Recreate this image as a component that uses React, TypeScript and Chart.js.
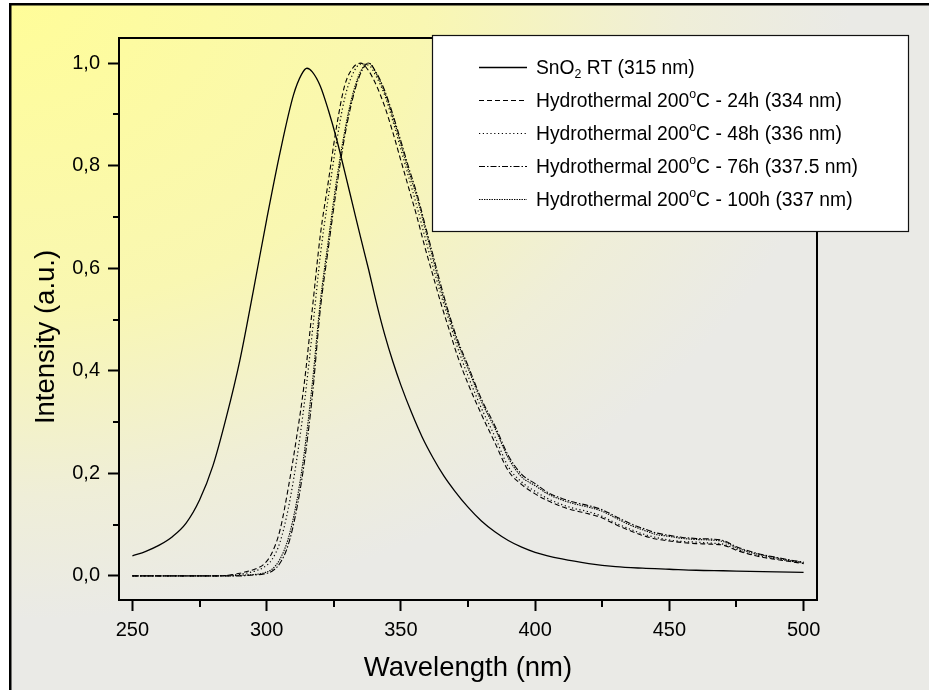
import React, { useEffect, useRef } from 'react';
import { Chart, registerables } from 'chart.js';

Chart.register(...registerables);

// ---------- data ----------
const sno2Wavelength = [250, 255, 260, 265, 270, 275, 280, 285, 290, 295, 300, 305, 310, 313, 315, 317, 320, 323, 326, 329, 332, 335, 338, 341, 344, 347, 350, 354, 358, 362, 366, 370, 375, 380, 385, 390, 395, 400, 410, 420, 430, 440, 450, 460, 470, 480, 490, 500];
const sno2Intensity = [0.039, 0.048, 0.06, 0.077, 0.103, 0.148, 0.215, 0.31, 0.42, 0.555, 0.695, 0.826, 0.938, 0.978, 0.99, 0.983, 0.955, 0.908, 0.853, 0.79, 0.725, 0.66, 0.597, 0.53, 0.47, 0.418, 0.372, 0.318, 0.27, 0.23, 0.195, 0.166, 0.134, 0.107, 0.086, 0.069, 0.056, 0.046, 0.033, 0.024, 0.018, 0.015, 0.013, 0.011, 0.01, 0.009, 0.008, 0.007];

const hydroWavelength = [250, 260, 270, 280, 285, 290, 293, 296, 299, 302, 305, 308, 311, 314, 317, 320, 323, 326, 329, 332, 335, 338, 341, 344, 347, 350, 353, 356, 359, 362, 365, 368, 371, 375, 380, 385, 390, 395, 400, 405, 410, 415, 420, 425, 430, 435, 440, 445, 450, 455, 460, 465, 470, 475, 480, 485, 490, 495, 500];
const hydro24h = [0, 0, 0, 0, 0.001, 0.005, 0.009, 0.014, 0.023, 0.045, 0.09, 0.17, 0.265, 0.375, 0.52, 0.665, 0.77, 0.875, 0.955, 0.99, 1.0, 0.985, 0.955, 0.915, 0.865, 0.81, 0.755, 0.7, 0.64, 0.585, 0.53, 0.48, 0.43, 0.375, 0.315, 0.26, 0.205, 0.178, 0.16, 0.146, 0.135, 0.127, 0.121, 0.113, 0.1, 0.089, 0.079, 0.072, 0.068, 0.065, 0.063, 0.062, 0.06, 0.05, 0.042, 0.036, 0.032, 0.028, 0.024];
const hydro48h = [0, 0, 0, 0, 0.001, 0.003, 0.006, 0.01, 0.017, 0.032, 0.066, 0.13, 0.22, 0.335, 0.475, 0.625, 0.74, 0.845, 0.93, 0.978, 0.998, 0.996, 0.972, 0.937, 0.887, 0.832, 0.776, 0.72, 0.66, 0.602, 0.547, 0.497, 0.447, 0.39, 0.327, 0.272, 0.213, 0.183, 0.165, 0.15, 0.139, 0.131, 0.125, 0.116, 0.103, 0.092, 0.082, 0.075, 0.07, 0.067, 0.066, 0.064, 0.062, 0.052, 0.043, 0.038, 0.033, 0.029, 0.025];
const hydro76h = [0, 0, 0, 0, 0, 0, 0.001, 0.002, 0.004, 0.009, 0.025, 0.06, 0.125, 0.22, 0.35, 0.52, 0.64, 0.755, 0.855, 0.93, 0.98, 1.0, 0.98, 0.946, 0.9, 0.848, 0.795, 0.745, 0.685, 0.625, 0.565, 0.51, 0.462, 0.41, 0.345, 0.293, 0.235, 0.198, 0.18, 0.162, 0.151, 0.143, 0.137, 0.129, 0.116, 0.103, 0.093, 0.084, 0.079, 0.075, 0.073, 0.072, 0.069, 0.057, 0.048, 0.041, 0.036, 0.031, 0.027];
const hydro100h = [0, 0, 0, 0, 0, 0.001, 0.002, 0.003, 0.006, 0.013, 0.033, 0.072, 0.14, 0.24, 0.375, 0.535, 0.655, 0.77, 0.865, 0.938, 0.984, 1.0, 0.978, 0.942, 0.895, 0.842, 0.788, 0.738, 0.678, 0.618, 0.558, 0.505, 0.457, 0.405, 0.34, 0.288, 0.23, 0.193, 0.176, 0.159, 0.148, 0.14, 0.134, 0.126, 0.113, 0.1, 0.09, 0.081, 0.077, 0.073, 0.071, 0.07, 0.067, 0.055, 0.046, 0.04, 0.035, 0.03, 0.026];

const xMajorTicks = [250, 300, 350, 400, 450, 500];
const xMinorTicks = [275, 325, 375, 425, 475];
const yMajorTicks = [0, 0.2, 0.4, 0.6, 0.8, 1.0];
const yMinorTicks = [0.1, 0.3, 0.5, 0.7, 0.9];

const xTitle = 'Wavelength (nm)';
const yTitle = 'Intensity (a.u.)';

const seriesNames = [
  'SnO2 RT (315 nm)',
  'Hydrothermal 200°C - 24h (334 nm)',
  'Hydrothermal 200°C - 48h (336 nm)',
  'Hydrothermal 200°C - 76h (337.5 nm)',
  'Hydrothermal 200°C - 100h (337 nm)',
];

type Seg = { t: string; sub?: boolean; sup?: boolean };
const legendRich: Seg[][] = [
  [{ t: 'SnO' }, { t: '2', sub: true }, { t: ' RT (315 nm)' }],
  [{ t: 'Hydrothermal 200' }, { t: 'o', sup: true }, { t: 'C - 24h (334 nm)' }],
  [{ t: 'Hydrothermal 200' }, { t: 'o', sup: true }, { t: 'C - 48h (336 nm)' }],
  [{ t: 'Hydrothermal 200' }, { t: 'o', sup: true }, { t: 'C - 76h (337.5 nm)' }],
  [{ t: 'Hydrothermal 200' }, { t: 'o', sup: true }, { t: 'C - 100h (337 nm)' }],
];

const FONT = '"Liberation Sans", Arial, Helvetica, sans-serif';

const dashes: number[][] = [[], [5, 3], [1.2, 2.6], [6, 2, 1.5, 2], [1.4, 1.1]];
const widths = [1.3, 1.1, 1.2, 1.1, 1.1];

function pts(xs: number[], ys: number[]) {
  return xs.map((x, i) => ({ x, y: ys[i] }));
}

const decor = {
  id: 'decor',
  beforeDraw(chart: any) {
    const ctx = chart.ctx as CanvasRenderingContext2D;
    const W = chart.width;
    const H = chart.height;
    ctx.save();
    ctx.fillStyle = '#ffffff';
    ctx.fillRect(0, 0, W, H);
    ctx.save();
    ctx.beginPath();
    ctx.rect(9, 3, W - 9, H - 3);
    ctx.clip();
    const rx = 850;
    const ry = 620;
    ctx.scale(1, ry / rx);
    const g = ctx.createRadialGradient(0, 0, 0, 0, 0, rx);
    g.addColorStop(0, '#fffd98');
    g.addColorStop(0.5, '#f9f7b2');
    g.addColorStop(0.8, '#efeed8');
    g.addColorStop(1, '#eaeae6');
    ctx.fillStyle = g;
    ctx.fillRect(0, 0, W, (H * rx) / ry);
    ctx.restore();
    ctx.strokeStyle = '#000';
    ctx.lineWidth = 2.5;
    ctx.beginPath();
    ctx.moveTo(10.25, H + 5);
    ctx.lineTo(10.25, 4.25);
    ctx.lineTo(W + 5, 4.25);
    ctx.stroke();
    ctx.restore();
  },
  afterDraw(chart: any) {
    const ctx = chart.ctx as CanvasRenderingContext2D;
    const ca = chart.chartArea;
    const xs = chart.scales.x;
    const ys = chart.scales.y;
    ctx.save();
    // top & right frame
    ctx.strokeStyle = '#000';
    ctx.lineWidth = 2;
    ctx.beginPath();
    ctx.moveTo(ca.left - 1, ca.top);
    ctx.lineTo(ca.right, ca.top);
    ctx.lineTo(ca.right, ca.bottom + 1);
    ctx.stroke();
    // minor ticks
    ctx.beginPath();
    for (const v of xMinorTicks) {
      const px = Math.round(xs.getPixelForValue(v));
      ctx.moveTo(px, ca.bottom);
      ctx.lineTo(px, ca.bottom + 7);
    }
    for (const v of yMinorTicks) {
      const py = Math.round(ys.getPixelForValue(v));
      ctx.moveTo(ca.left, py);
      ctx.lineTo(ca.left - 6, py);
    }
    ctx.stroke();
    // y title
    ctx.save();
    ctx.translate(46, 337);
    ctx.rotate(-Math.PI / 2);
    ctx.fillStyle = '#000';
    ctx.font = `27.5px ${FONT}`;
    ctx.textAlign = 'center';
    ctx.textBaseline = 'middle';
    ctx.fillText(yTitle, 0, 0);
    ctx.restore();
    // legend box
    const bx = 432, by = 35, bw = 476, bh = 196;
    ctx.fillStyle = '#ffffff';
    ctx.fillRect(bx, by, bw, bh);
    ctx.strokeStyle = '#111';
    ctx.lineWidth = 1.2;
    ctx.strokeRect(bx + 0.5, by + 0.5, bw, bh);
    const rows = [67, 100, 133, 166, 199];
    const size = 19.3;
    chart.data.datasets.forEach((ds: any, i: number) => {
      const y = rows[i];
      ctx.save();
      ctx.strokeStyle = '#000';
      ctx.lineWidth = ds.borderWidth;
      ctx.setLineDash(ds.borderDash || []);
      ctx.beginPath();
      ctx.moveTo(479, y + 0.5);
      ctx.lineTo(527, y + 0.5);
      ctx.stroke();
      ctx.restore();
      let cx = 536;
      const base = y + 0.35 * size;
      ctx.fillStyle = '#000';
      ctx.textAlign = 'left';
      ctx.textBaseline = 'alphabetic';
      for (const s of legendRich[i]) {
        const small = s.sub || s.sup;
        const fs = small ? size * 0.64 : size;
        ctx.font = `${fs}px ${FONT}`;
        const dy = s.sub ? size * 0.24 : s.sup ? -size * 0.44 : 0;
        ctx.fillText(s.t, cx, base + dy);
        cx += ctx.measureText(s.t).width;
      }
    });
    ctx.restore();
  },
};

export default function App() {
  const ref = useRef<HTMLCanvasElement>(null);
  useEffect(() => {
    const series = [
      pts(sno2Wavelength, sno2Intensity),
      pts(hydroWavelength, hydro24h),
      pts(hydroWavelength, hydro48h),
      pts(hydroWavelength, hydro76h),
      pts(hydroWavelength, hydro100h),
    ];
    const chart = new Chart(ref.current as HTMLCanvasElement, {
      type: 'scatter',
      data: {
        datasets: series.map((d, i) => ({
          label: seriesNames[i],
          data: d,
          showLine: true,
          borderColor: '#000',
          backgroundColor: '#000',
          borderWidth: widths[i],
          borderDash: dashes[i],
          pointRadius: 0,
          cubicInterpolationMode: 'monotone' as const,
          fill: false,
        })),
      },
      plugins: [decor],
      options: {
        animation: false,
        responsive: false,
        devicePixelRatio: 1,
        layout: { padding: { left: 0, top: 38, right: 112, bottom: 0 } },
        plugins: { legend: { display: false }, tooltip: { enabled: false } },
        scales: {
          x: {
            type: 'linear',
            min: 245,
            max: 505,
            afterFit: (s: any) => { s.height = 90; },
            afterBuildTicks: (s: any) => { s.ticks = xMajorTicks.map((v) => ({ value: v })); },
            ticks: {
              color: '#000',
              font: { family: FONT, size: 20 },
              padding: 7,
              maxRotation: 0,
              callback: (v: any) => String(v),
            },
            grid: {
              display: true,
              drawOnChartArea: false,
              drawTicks: true,
              tickLength: 11,
              tickWidth: 2,
              tickColor: '#000',
            },
            border: { display: true, color: '#000', width: 2 },
            title: {
              display: true,
              text: xTitle,
              color: '#000',
              font: { family: FONT, size: 27.5 },
              padding: { top: 0, bottom: 5 },
            },
          },
          y: {
            type: 'linear',
            min: -0.047,
            max: 1.049,
            afterFit: (s: any) => { s.width = 119; },
            afterBuildTicks: (s: any) => { s.ticks = yMajorTicks.map((v) => ({ value: v })); },
            ticks: {
              color: '#000',
              font: { family: FONT, size: 20 },
              padding: 8,
              callback: (v: any) => Number(v).toFixed(1).replace('.', ','),
            },
            grid: {
              display: true,
              drawOnChartArea: false,
              drawTicks: true,
              tickLength: 11,
              tickWidth: 2,
              tickColor: '#000',
            },
            border: { display: true, color: '#000', width: 2 },
            title: { display: false },
          },
        },
      },
    } as any);
    return () => chart.destroy();
  }, []);
  return (
    <div style={{ position: 'fixed', left: 0, top: 0, width: 929, height: 690 }}>
      <canvas ref={ref} width={929} height={690} style={{ display: 'block', width: 929, height: 690 }} />
    </div>
  );
}
